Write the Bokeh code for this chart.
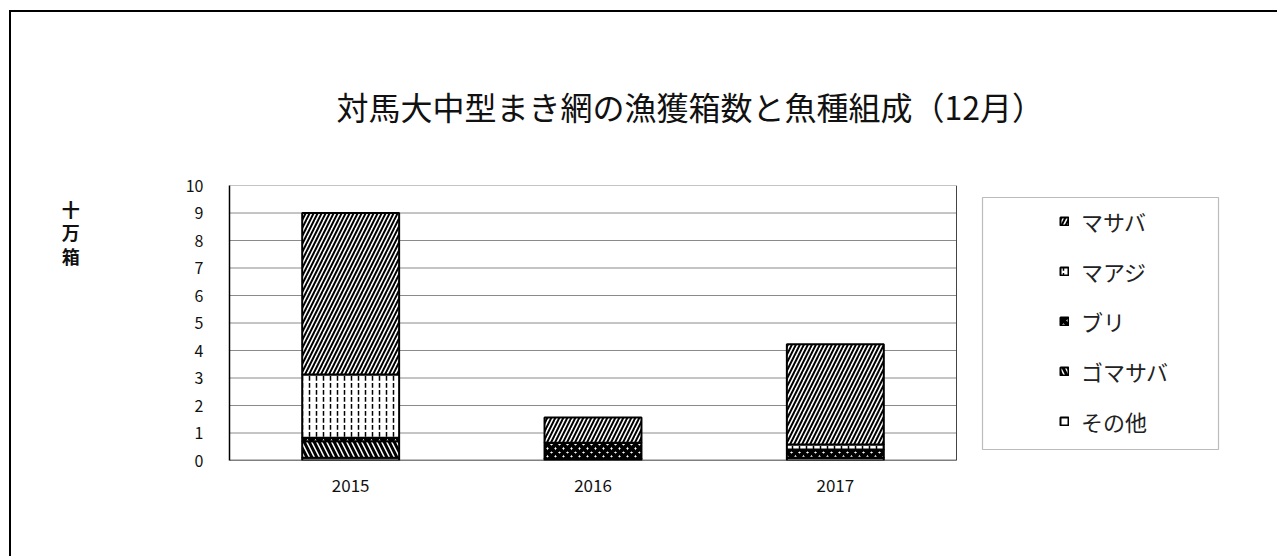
from bokeh.plotting import figure
from bokeh.models import (Range1d, Legend, LegendItem, FixedTicker, BoxAnnotation, Title)
from bokeh.transform import stack
from bokeh.embed import file_html
from bokeh.resources import INLINE

# ---- data (十万箱) ----
years = ["2015", "2016", "2017"]
sonota = [0.10, 0.07, 0.10]     # その他
gomasaba = [0.60, 0.00, 0.00]   # ゴマサバ
buri = [0.13, 0.58, 0.30]       # ブリ
maaji = [2.30, 0.00, 0.18]      # マアジ
masaba = [5.87, 0.91, 3.65]     # マサバ
series_keys = ["sonota", "gomasaba", "buri", "maaji", "masaba"]
series_names = ["その他", "ゴマサバ", "ブリ", "マアジ", "マサバ"]
y_ticks = list(range(0, 11))
title_text = "対馬大中型まき網の漁獲箱数と魚種組成（12月）"
y_label = "\n\n\n\n十\n万\n箱"

FONT = "Noto Sans CJK JP"

n = len(years)
xpos = [i + 0.5 for i in range(n)]
source = dict(x=xpos, years=years, sonota=sonota, gomasaba=gomasaba, buri=buri,
              maaji=maaji, masaba=masaba)

# layout (pixels)
W, H = 1268, 546
left_b, top_b = 218, 173
cat_px = 727.0          # width of the category area
frame_w = 993           # frame extends under the legend
frame_h = 275
x_end = n * frame_w / cat_px

p = figure(width=W, height=H, x_range=Range1d(0, x_end), y_range=Range1d(0, 10),
           output_backend="svg", toolbar_location=None,
           min_border_left=left_b, min_border_right=W - left_b - frame_w,
           min_border_top=top_b, min_border_bottom=H - top_b - frame_h)
p.styles = {"margin-left": "9px", "margin-top": "10px",
            "border-left": "2px solid #000", "border-top": "2px solid #000"}
p.outline_line_color = None
p.background_fill_color = "white"
p.border_fill_color = "white"

# title
p.title = Title(text=title_text, align="left", offset=107, standoff=113,
                text_font=FONT, text_font_size="32px", text_font_style="normal",
                text_color="#111")

# grid lines (own, limited to the category area)
grid_y = [t for t in y_ticks if t > 0]
p.segment(x0=[0] * len(grid_y), x1=[n] * len(grid_y), y0=grid_y, y1=grid_y,
          line_color="#8a8a8a", line_width=1)
p.segment(x0=[n], x1=[n], y0=[0], y1=[y_ticks[-1]], line_color="#444", line_width=1)

styles = {
    "sonota": dict(fill_color="white"),
    "gomasaba": dict(fill_color="white", hatch_pattern="\\", hatch_color="black",
                     hatch_scale=10, hatch_weight=3),
    "buri": dict(fill_color="white", hatch_pattern="x", hatch_color="black",
                 hatch_scale=8, hatch_weight=4),
    "maaji": dict(fill_color="white", hatch_pattern="vertical_dash", hatch_color="black",
                  hatch_scale=7, hatch_weight=1.5),
    "masaba": dict(fill_color="white", hatch_pattern="/", hatch_color="black",
                   hatch_scale=8, hatch_weight=2),
}

renderers = {}
for i, key in enumerate(series_keys):
    r = p.vbar(x="x", width=0.4, bottom=stack(*series_keys[:i]),
               top=stack(*series_keys[:i + 1]), source=source,
               line_color="black", line_width=2, **styles[key])
    renderers[key] = r

# baseline (x axis line)
p.segment(x0=[0], x1=[n], y0=[0], y1=[0], line_color="black", line_width=1.5)

# axes
p.yaxis.ticker = FixedTicker(ticks=y_ticks)
p.yaxis.major_tick_out = 0
p.yaxis.major_tick_in = 0
p.yaxis.minor_tick_out = 0
p.yaxis.minor_tick_in = 0
p.yaxis.axis_line_color = "black"
p.yaxis.axis_line_width = 1.5
p.yaxis.major_label_standoff = 26
p.yaxis.major_label_text_font = FONT
p.yaxis.major_label_text_font_size = "16px"
p.yaxis.major_label_text_color = "#111"
p.yaxis.axis_label = y_label
p.yaxis.axis_label_orientation = "horizontal"
p.yaxis.axis_label_standoff = 103
p.yaxis.axis_label_text_font = FONT
p.yaxis.axis_label_text_font_size = "18px"
p.yaxis.axis_label_text_font_style = "bold"
p.yaxis.axis_label_text_color = "#111"
p.yaxis.axis_label_text_line_height = 0.9
try:
    p.yaxis.axis_label_align = "end"
except Exception:
    pass

p.xaxis.ticker = FixedTicker(ticks=xpos)
p.xaxis.major_label_overrides = {x: y for x, y in zip(xpos, years)}
p.xaxis.major_tick_out = 0
p.xaxis.major_tick_in = 0
p.xaxis.minor_tick_out = 0
p.xaxis.minor_tick_in = 0
p.xaxis.axis_line_color = None
p.xaxis.major_label_standoff = 18
p.xaxis.major_label_text_font = FONT
p.xaxis.major_label_text_font_size = "17px"
p.xaxis.major_label_text_color = "#111"

p.xgrid.grid_line_color = None
p.ygrid.grid_line_color = None

# legend box (screen px relative to the frame)
p.add_layout(BoxAnnotation(left=753, right=989, bottom=11, top=263,
                           left_units="screen", right_units="screen",
                           bottom_units="screen", top_units="screen",
                           fill_color="white", fill_alpha=1.0,
                           line_color="#222", line_width=1.2))

order = ["masaba", "maaji", "buri", "gomasaba", "sonota"]
items = [LegendItem(label=series_names[series_keys.index(k)], renderers=[renderers[k]])
         for k in order]
legend = Legend(items=items, location=(830, 23), margin=0, border_line_color=None,
                background_fill_alpha=0, padding=10, spacing=18,
                glyph_width=10, glyph_height=10, label_standoff=12,
                label_text_font=FONT, label_text_font_size="22px",
                label_text_color="#222", label_height=32)
p.add_layout(legend, "center")

open("out.html", "w").write(file_html(p, INLINE))
